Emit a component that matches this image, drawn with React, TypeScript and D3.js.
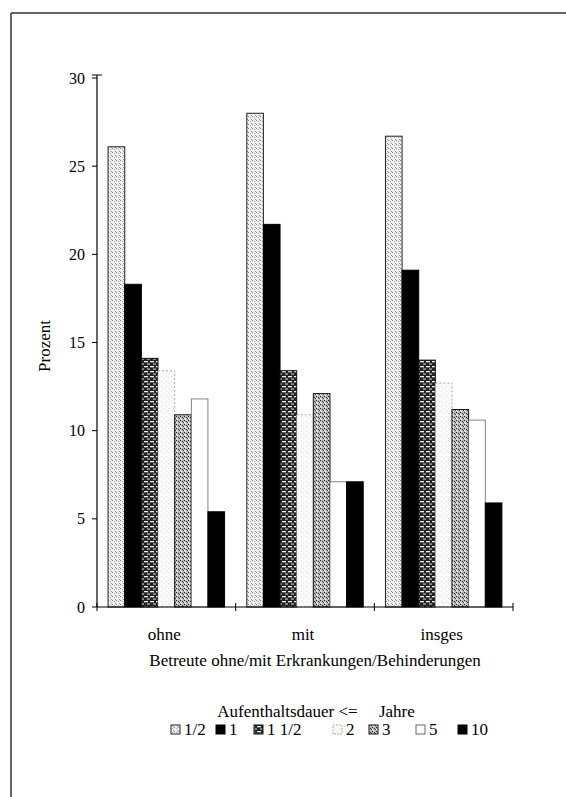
import React from "react";
import * as d3 from "d3";

const categories = ["ohne", "mit", "insges"];
const seriesNames = ["1/2", "1", "1 1/2", "2", "3", "5", "10"];
const valuesOhne = [26.1, 18.3, 14.1, 13.4, 10.9, 11.8, 5.4];
const valuesMit = [28.0, 21.7, 13.4, 10.9, 12.1, 7.1, 7.1];
const valuesInsges = [26.7, 19.1, 14.0, 12.7, 11.2, 10.6, 5.9];
const yTicks = [0, 5, 10, 15, 20, 25, 30];

const seriesValues = [valuesOhne, valuesMit, valuesInsges];

const fills = [
  "url(#pStipLight)",
  "#000",
  "url(#pBrick)",
  "url(#pFaint)",
  "url(#pStipDark)",
  "#fff",
  "#000",
];
const strokes = ["#222", "#000", "#111", "#999", "#111", "#666", "#000"];
const dashes = ["", "", "", "2,2", "", "", ""];

const FONT = "'Liberation Serif', 'Times New Roman', serif";

export default function App() {
  const W = 566;
  const H = 797;
  const x0 = 97;
  const x1 = 513;
  const yTop = 78;
  const yBot = 607;

  const x = d3.scaleBand().domain(categories).range([x0, x1]).padding(0);
  const bw = x.bandwidth();
  const xi = d3
    .scaleBand()
    .domain(seriesNames)
    .range([bw * 0.08, bw * 0.92])
    .padding(0);
  const y = d3.scaleLinear().domain([0, 30]).range([yBot, yTop]);

  const legendX = [174, 219, 257, 336, 372, 419, 461];

  return (
    <svg width={W} height={H} style={{ position: "absolute", left: 0, top: 0 }}>
      <defs>
        <pattern id="pStipLight" width="4" height="4" patternUnits="userSpaceOnUse">
          <rect width="4" height="4" fill="#ececec" />
          <rect x="0" y="0" width="1" height="1" fill="#888" />
          <rect x="2" y="1" width="1" height="1" fill="#aaa" />
          <rect x="1" y="2" width="1" height="1" fill="#fff" />
          <rect x="3" y="3" width="1" height="1" fill="#999" />
        </pattern>
        <pattern id="pStipDark" width="4" height="4" patternUnits="userSpaceOnUse">
          <rect width="4" height="4" fill="#bbb" />
          <rect x="0" y="0" width="1" height="1" fill="#222" />
          <rect x="2" y="1" width="1" height="1" fill="#333" />
          <rect x="1" y="3" width="1" height="1" fill="#fff" />
          <rect x="3" y="2" width="1" height="1" fill="#444" />
          <rect x="0" y="2" width="1" height="1" fill="#fff" />
        </pattern>
        <pattern id="pBrick" width="6" height="5" patternUnits="userSpaceOnUse">
          <rect width="6" height="5" fill="#222" />
          <rect x="0" y="1" width="4" height="1.3" fill="#eee" />
          <rect x="3" y="3.5" width="3" height="1.1" fill="#ccc" />
        </pattern>
        <pattern id="pFaint" width="5" height="5" patternUnits="userSpaceOnUse">
          <rect width="5" height="5" fill="#fafafa" />
          <rect x="1" y="1" width="1" height="1" fill="#ddd" />
          <rect x="3" y="3" width="1" height="1" fill="#e4e4e4" />
        </pattern>
      </defs>

      {/* frame */}
      <line x1={11} y1={13} x2={W} y2={13} stroke="#333" strokeWidth={1.5} />
      <line x1={11} y1={13} x2={11} y2={H} stroke="#333" strokeWidth={1.5} />

      {/* bars */}
      {categories.map((c, ci) =>
        seriesNames.map((s, si) => {
          const v = seriesValues[ci][si];
          const bx = (x(c) as number) + (xi(s) as number);
          return (
            <rect
              key={c + s}
              x={bx}
              y={y(v)}
              width={xi.bandwidth()}
              height={y(0) - y(v)}
              fill={fills[si]}
              stroke={strokes[si]}
              strokeWidth={si === 3 || si === 5 ? 0.8 : 1}
              strokeDasharray={dashes[si]}
            />
          );
        })
      )}

      {/* y axis */}
      <line x1={x0} y1={yTop - 3} x2={x0} y2={yBot} stroke="#000" strokeWidth={1.2} />
      {yTicks.map((t) => (
        <g key={t}>
          <line x1={x0 - 5} y1={y(t)} x2={x0} y2={y(t)} stroke="#000" strokeWidth={1} />
          <text
            x={x0 - 12}
            y={y(t)}
            dy="0.35em"
            textAnchor="end"
            fontFamily={FONT}
            fontSize={16}
          >
            {t}
          </text>
        </g>
      ))}
      <line x1={x0 - 5} y1={yTop - 3} x2={x0 + 5} y2={yTop - 3} stroke="#000" strokeWidth={1} />

      {/* x axis */}
      <line x1={x0} y1={yBot} x2={x1} y2={yBot} stroke="#000" strokeWidth={1} />
      {[...categories.map((c) => x(c) as number), x1].map((p, i) => (
        <line key={i} x1={p} y1={yBot - 4} x2={p} y2={yBot + 4} stroke="#000" strokeWidth={1} />
      ))}
      {categories.map((c) => (
        <text
          key={c}
          x={(x(c) as number) + bw / 2 - 2}
          y={640}
          textAnchor="middle"
          fontFamily={FONT}
          fontSize={17}
        >
          {c}
        </text>
      ))}
      <text x={315} y={666} textAnchor="middle" fontFamily={FONT} fontSize={17}>
        Betreute ohne/mit Erkrankungen/Behinderungen
      </text>

      {/* y title */}
      <text
        transform={`translate(50,346) rotate(-90)`}
        textAnchor="middle"
        fontFamily={FONT}
        fontSize={17}
      >
        Prozent
      </text>

      {/* legend */}
      <text x={316} y={717} textAnchor="middle" fontFamily={FONT} fontSize={17} xmlSpace="preserve">
        {"Aufenthaltsdauer <=     Jahre"}
      </text>
      {seriesNames.map((s, si) => (
        <g key={s} transform={`translate(${legendX[si]},735)`}>
          <rect
            x={-3}
            y={-10}
            width={9}
            height={9}
            fill={fills[si]}
            stroke={strokes[si]}
            strokeWidth={1}
            strokeDasharray={dashes[si] ? "1.5,1.5" : ""}
          />
          <text x={10} y={0} fontFamily={FONT} fontSize={17}>
            {s}
          </text>
        </g>
      ))}
    </svg>
  );
}
